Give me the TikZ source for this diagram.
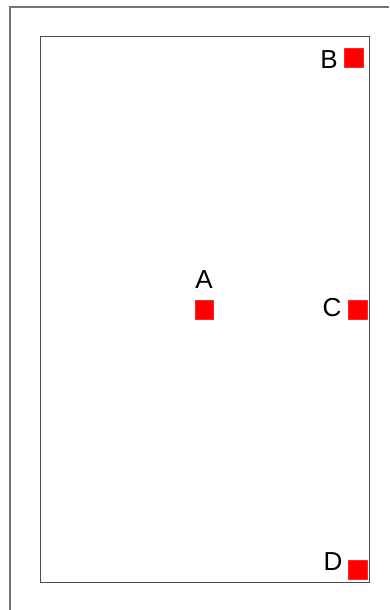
\documentclass[tikz,border=0pt]{standalone}
\usepackage{fontspec}
\setmainfont{Liberation Sans}
\begin{document}
\begin{tikzpicture}[x=1pt,y=-1pt,
  frame/.style={draw=black!60, line width=1.1pt},
  marker/.style={fill=red, draw=red!85!white, line width=0.4pt, minimum size=18.5pt, inner sep=0pt, outer sep=0pt},
  lbl/.style={font=\fontsize{26}{26}\selectfont, inner sep=0pt, text=black}]
\useasboundingbox (0,0) rectangle (389,610);
\coordinate (o1) at (389,7);
\coordinate (o2) at (10,7);
\coordinate (o3) at (10,610);
\draw[frame, line width=1.3pt, draw=black!55] (o1) -- (o2) -- (o3);
\node[frame, draw=black!70, line width=0.9pt, minimum width=329pt, minimum height=546pt, inner sep=0pt, anchor=north west] (box) at (40,36) {};
\node[marker] (sA) at (204,309.5) {};
\node[marker] (sB) at (353.5,57.5) {};
\node[marker] (sC) at (357.5,309.5) {};
\node[marker] (sD) at (357.5,569.5) {};
\node[lbl] (A) at (204,280) {A};
\node[lbl] (B) at (329,59.5) {B};
\node[lbl] (C) at (332,308) {C};
\node[lbl] (D) at (333,562) {D};
\end{tikzpicture}
\end{document}
